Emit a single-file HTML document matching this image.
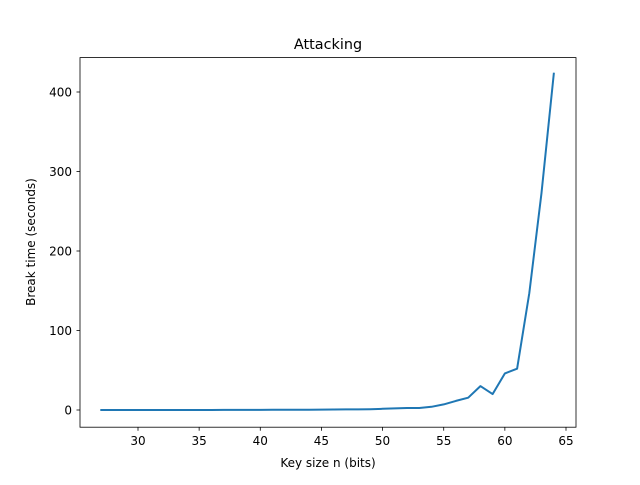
<!DOCTYPE html>
<html><head><meta charset="utf-8"><style>
body{margin:0;background:#fff}
svg text{font-family:"DejaVu Sans","Liberation Sans",sans-serif;fill:#000}
</style></head><body>
<svg width="640" height="480" viewBox="0 0 640 480" xmlns="http://www.w3.org/2000/svg">
<rect width="640" height="480" fill="#fff"/>
<text x="328" y="49" font-size="14.4" text-anchor="middle">Attacking</text>
<g id="ticks"></g>
<path id="line" fill="none" stroke="#1f77b4" stroke-width="2" stroke-linejoin="round" stroke-linecap="square"/>
<rect x="80" y="57.6" width="496" height="369.6" fill="none" stroke="#000" stroke-width="0.8"/>
<text x="328" y="467" font-size="12" text-anchor="middle">Key size n (bits)</text>
<text transform="translate(35,242) rotate(-90)" font-size="12" text-anchor="middle">Break time (seconds)</text>
</svg>
<script>
const keySizes=[27,28,29,30,31,32,33,34,35,36,37,38,39,40,41,42,43,44,45,46,47,48,49,50,51,52,53,54,55,56,57,58,59,60,61,62,63,64];
const breakTimes=[0.01,0.01,0.01,0.02,0.02,0.03,0.03,0.04,0.05,0.06,0.08,0.1,0.12,0.15,0.2,0.25,0.3,0.4,0.5,0.6,0.7,0.8,1.0,1.5,2,2.5,2.5,4,7,11.5,15.5,30,20,46,52,147,273,423];
const xTicks=[30,35,40,45,50,55,60,65];
const yTicks=[0,100,200,300,400];
const xs=v=>138+(v-30)*(428/35);
const ys=v=>410-v*0.795;
const NS="http://www.w3.org/2000/svg";
const g=document.getElementById('ticks');
xTicks.forEach(t=>{
 const l=document.createElementNS(NS,'line');
 
 
 l.setAttribute('x1',xs(t));l.setAttribute('x2',xs(t));l.setAttribute('y1',427.2);l.setAttribute('y2',430.7);l.setAttribute('stroke','#000');l.setAttribute('stroke-width','0.8');g.appendChild(l);
 const tx=document.createElementNS(NS,'text');
 
 
 tx.setAttribute('x',xs(t));tx.setAttribute('y',445);tx.setAttribute('font-size','12');tx.setAttribute('text-anchor','middle');tx.textContent=t;g.appendChild(tx);
});
yTicks.forEach(t=>{
 const l=document.createElementNS(NS,'line');
 
 
 l.setAttribute('x1',76.5);l.setAttribute('x2',80);l.setAttribute('y1',ys(t));l.setAttribute('y2',ys(t));l.setAttribute('stroke','#000');l.setAttribute('stroke-width','0.8');g.appendChild(l);
 const tx=document.createElementNS(NS,'text');
 
 
 tx.setAttribute('x',72);tx.setAttribute('y',ys(t)+4.3);tx.setAttribute('font-size','12');tx.setAttribute('text-anchor','end');tx.textContent=t;g.appendChild(tx);
});
document.getElementById('line').setAttribute('d',keySizes.map((k,i)=>(i?'L':'M')+xs(k).toFixed(1)+','+ys(breakTimes[i]).toFixed(1)).join(' '));
</script>
</body></html>
